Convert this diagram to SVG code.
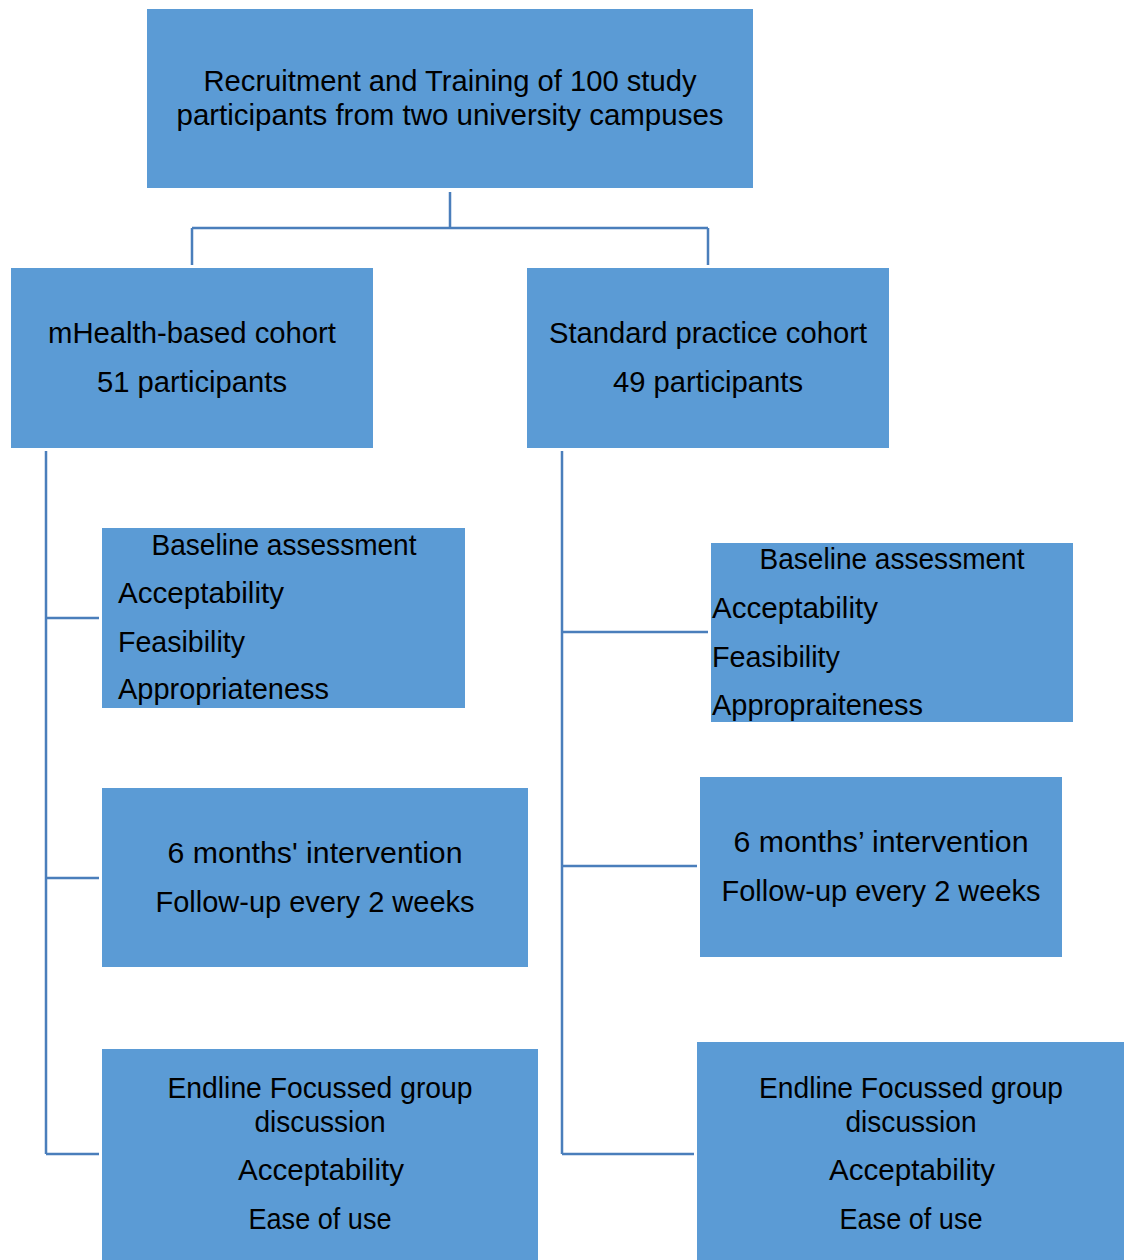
<svg xmlns="http://www.w3.org/2000/svg" width="1129" height="1260" viewBox="0 0 1129 1260">
<style>
.box{fill:#5B9BD5;}
.t{font-family:"Liberation Sans",Arial,sans-serif;font-size:29px;fill:#000;}
.c{text-anchor:middle;}
.ln{fill:none;stroke:#4A7EBB;stroke-width:2.5;}
</style>
<rect width="1129" height="1260" fill="#fff"/>
<g id="connectors">
<path class="ln" d="M450,192 V228 M192,228 H708 M192,228 V265 M708,228 V265"/>
<path class="ln" d="M46,451 V1154 M46,618 H99 M46,878 H99 M46,1154 H99"/>
<path class="ln" d="M562,451 V1154 M562,632 H708 M562,866 H697 M562,1154 H694"/>
</g>
<g id="recruitment">
<rect class="box" x="147" y="9" width="606" height="179"/>
<text class="t c" x="450" y="91" textLength="493" lengthAdjust="spacingAndGlyphs">Recruitment and Training of 100 study</text>
<text class="t c" x="450" y="125" textLength="547" lengthAdjust="spacingAndGlyphs">participants from two university campuses</text>
</g>
<g id="mhealth-cohort">
<rect class="box" x="11" y="268" width="362" height="180"/>
<text class="t c" x="192" y="343" textLength="288" lengthAdjust="spacingAndGlyphs">mHealth-based cohort</text>
<text class="t c" x="192" y="392" textLength="190" lengthAdjust="spacingAndGlyphs">51 participants</text>
</g>
<g id="standard-cohort">
<rect class="box" x="527" y="268" width="362" height="180"/>
<text class="t c" x="708" y="343" textLength="318" lengthAdjust="spacingAndGlyphs">Standard practice cohort</text>
<text class="t c" x="708" y="392" textLength="190" lengthAdjust="spacingAndGlyphs">49 participants</text>
</g>
<g id="baseline-left">
<rect class="box" x="102" y="528" width="363" height="180"/>
<text class="t c" x="284" y="555" textLength="265" lengthAdjust="spacingAndGlyphs">Baseline assessment</text>
<text class="t" x="118" y="603" textLength="166" lengthAdjust="spacingAndGlyphs">Acceptability</text>
<text class="t" x="118" y="652" textLength="127" lengthAdjust="spacingAndGlyphs">Feasibility</text>
<text class="t" x="118" y="699" textLength="211" lengthAdjust="spacingAndGlyphs">Appropriateness</text>
</g>
<g id="baseline-right">
<rect class="box" x="711" y="543" width="362" height="179"/>
<text class="t c" x="892" y="569" textLength="265" lengthAdjust="spacingAndGlyphs">Baseline assessment</text>
<text class="t" x="712" y="618" textLength="166" lengthAdjust="spacingAndGlyphs">Acceptability</text>
<text class="t" x="712" y="667" textLength="128" lengthAdjust="spacingAndGlyphs">Feasibility</text>
<text class="t" x="712" y="715" textLength="211" lengthAdjust="spacingAndGlyphs">Appropraiteness</text>
</g>
<g id="intervention-left">
<rect class="box" x="102" y="788" width="426" height="179"/>
<text class="t c" x="315" y="863" textLength="295" lengthAdjust="spacingAndGlyphs">6 months' intervention</text>
<text class="t c" x="315" y="912" textLength="319" lengthAdjust="spacingAndGlyphs">Follow-up every 2 weeks</text>
</g>
<g id="intervention-right">
<rect class="box" x="700" y="777" width="362" height="180"/>
<text class="t c" x="881" y="852" textLength="295" lengthAdjust="spacingAndGlyphs">6 months’ intervention</text>
<text class="t c" x="881" y="901" textLength="319" lengthAdjust="spacingAndGlyphs">Follow-up every 2 weeks</text>
</g>
<g id="endline-left">
<rect class="box" x="102" y="1049" width="436" height="211"/>
<text class="t c" x="320" y="1098" textLength="305" lengthAdjust="spacingAndGlyphs">Endline Focussed group</text>
<text class="t c" x="320" y="1132" textLength="131" lengthAdjust="spacingAndGlyphs">discussion</text>
<text class="t c" x="321" y="1180" textLength="166" lengthAdjust="spacingAndGlyphs">Acceptability</text>
<text class="t c" x="320" y="1229" textLength="143" lengthAdjust="spacingAndGlyphs">Ease of use</text>
</g>
<g id="endline-right">
<rect class="box" x="697" y="1042" width="427" height="218"/>
<text class="t c" x="911" y="1098" textLength="304" lengthAdjust="spacingAndGlyphs">Endline Focussed group</text>
<text class="t c" x="911" y="1132" textLength="131" lengthAdjust="spacingAndGlyphs">discussion</text>
<text class="t c" x="912" y="1180" textLength="166" lengthAdjust="spacingAndGlyphs">Acceptability</text>
<text class="t c" x="911" y="1229" textLength="143" lengthAdjust="spacingAndGlyphs">Ease of use</text>
</g>
</svg>
